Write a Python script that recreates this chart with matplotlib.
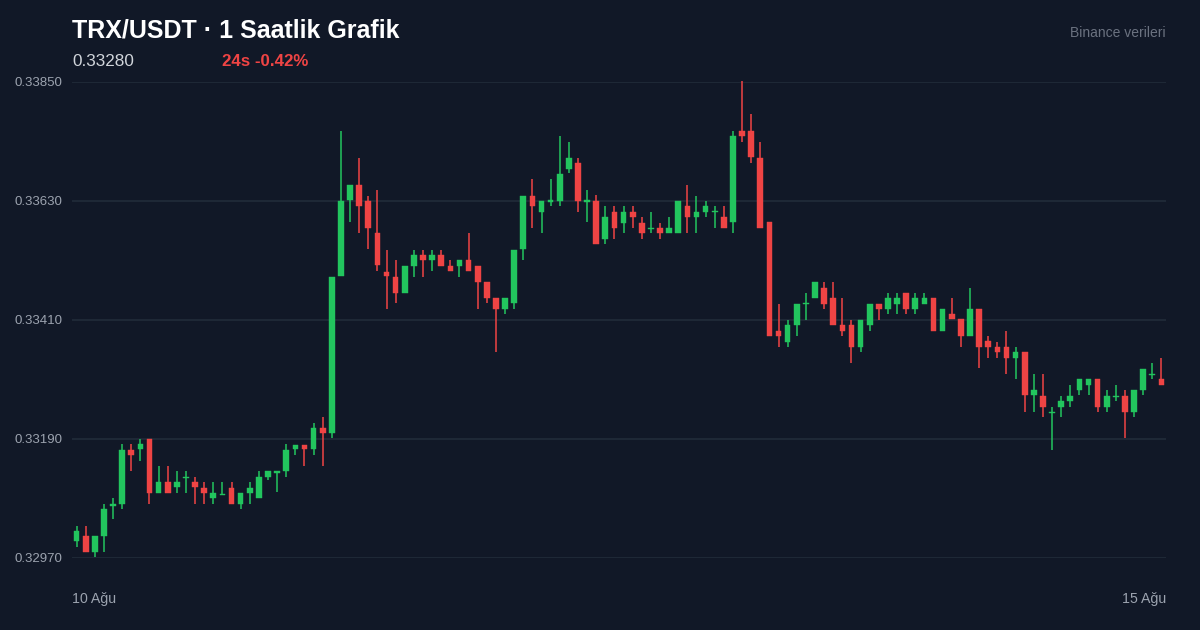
"""
TRX/USDT hourly candlestick chart (dark theme).
"""

import numpy as np
import matplotlib
matplotlib.use("Agg")
import matplotlib.pyplot as plt

# =============================================================================
# DATA
# =============================================================================

opens = [
    0.33001, 0.33010, 0.32981, 0.33011, 0.33067, 0.33070, 0.33170, 0.33171, 0.33190, 0.33091,
    0.33110, 0.33101, 0.33117, 0.33110, 0.33099, 0.33080, 0.33087, 0.33099, 0.33070, 0.33091,
    0.33080, 0.33120, 0.33128, 0.33131, 0.33171, 0.33179, 0.33171, 0.33210, 0.33201, 0.33491,
    0.33631, 0.33660, 0.33630, 0.33570, 0.33499, 0.33490, 0.33460, 0.33510, 0.33530, 0.33521,
    0.33530, 0.33510, 0.33510, 0.33520, 0.33510, 0.33480, 0.33450, 0.33431, 0.33441, 0.33541,
    0.33640, 0.33610, 0.33629, 0.33630, 0.33690, 0.33700, 0.33629, 0.33630, 0.33560, 0.33610,
    0.33590, 0.33610, 0.33590, 0.33579, 0.33580, 0.33570, 0.33570, 0.33620, 0.33600, 0.33610,
    0.33609, 0.33600, 0.33591, 0.33760, 0.33760, 0.33710, 0.33591, 0.33390, 0.33370, 0.33401,
    0.33439, 0.33450, 0.33470, 0.33450, 0.33400, 0.33400, 0.33361, 0.33401, 0.33440, 0.33430,
    0.33440, 0.33460, 0.33430, 0.33440, 0.33450, 0.33390, 0.33421, 0.33411, 0.33381, 0.33430,
    0.33371, 0.33360, 0.33360, 0.33340, 0.33350, 0.33271, 0.33270, 0.33238, 0.33250, 0.33260,
    0.33281, 0.33290, 0.33300, 0.33250, 0.33267, 0.33270, 0.33240, 0.33281, 0.33308, 0.33300,
]

highs = [
    0.33030, 0.33030, 0.33010, 0.33070, 0.33080, 0.33180, 0.33180, 0.33190, 0.33190, 0.33140,
    0.33140, 0.33131, 0.33131, 0.33120, 0.33110, 0.33110, 0.33110, 0.33110, 0.33090, 0.33110,
    0.33131, 0.33130, 0.33130, 0.33180, 0.33179, 0.33179, 0.33220, 0.33230, 0.33490, 0.33760,
    0.33660, 0.33710, 0.33640, 0.33650, 0.33539, 0.33520, 0.33510, 0.33539, 0.33539, 0.33539,
    0.33540, 0.33520, 0.33520, 0.33570, 0.33510, 0.33480, 0.33450, 0.33450, 0.33540, 0.33640,
    0.33670, 0.33630, 0.33670, 0.33750, 0.33740, 0.33710, 0.33650, 0.33641, 0.33620, 0.33620,
    0.33620, 0.33620, 0.33600, 0.33610, 0.33590, 0.33600, 0.33630, 0.33660, 0.33640, 0.33630,
    0.33620, 0.33620, 0.33760, 0.33851, 0.33790, 0.33740, 0.33591, 0.33440, 0.33410, 0.33440,
    0.33460, 0.33480, 0.33480, 0.33480, 0.33450, 0.33410, 0.33410, 0.33440, 0.33440, 0.33460,
    0.33460, 0.33460, 0.33460, 0.33460, 0.33450, 0.33430, 0.33450, 0.33411, 0.33470, 0.33430,
    0.33380, 0.33370, 0.33390, 0.33360, 0.33350, 0.33310, 0.33310, 0.33250, 0.33270, 0.33290,
    0.33300, 0.33300, 0.33300, 0.33281, 0.33290, 0.33281, 0.33280, 0.33320, 0.33330, 0.33340,
]

lows = [
    0.32991, 0.32981, 0.32972, 0.32981, 0.33042, 0.33061, 0.33130, 0.33150, 0.33070, 0.33091,
    0.33091, 0.33091, 0.33091, 0.33070, 0.33070, 0.33070, 0.33087, 0.33070, 0.33061, 0.33070,
    0.33080, 0.33114, 0.33092, 0.33120, 0.33160, 0.33141, 0.33160, 0.33141, 0.33191, 0.33491,
    0.33591, 0.33570, 0.33541, 0.33501, 0.33430, 0.33441, 0.33460, 0.33490, 0.33490, 0.33501,
    0.33510, 0.33501, 0.33490, 0.33501, 0.33430, 0.33441, 0.33350, 0.33421, 0.33430, 0.33520,
    0.33581, 0.33570, 0.33620, 0.33620, 0.33681, 0.33610, 0.33591, 0.33550, 0.33550, 0.33560,
    0.33570, 0.33581, 0.33560, 0.33570, 0.33560, 0.33570, 0.33570, 0.33570, 0.33570, 0.33600,
    0.33581, 0.33581, 0.33570, 0.33740, 0.33700, 0.33581, 0.33380, 0.33361, 0.33361, 0.33380,
    0.33410, 0.33450, 0.33430, 0.33401, 0.33380, 0.33331, 0.33351, 0.33390, 0.33410, 0.33421,
    0.33421, 0.33421, 0.33421, 0.33440, 0.33390, 0.33390, 0.33411, 0.33361, 0.33381, 0.33321,
    0.33340, 0.33340, 0.33310, 0.33300, 0.33240, 0.33240, 0.33231, 0.33170, 0.33231, 0.33250,
    0.33271, 0.33271, 0.33240, 0.33240, 0.33260, 0.33191, 0.33231, 0.33271, 0.33300, 0.33290,
]

closes = [
    0.33020, 0.32981, 0.33010, 0.33061, 0.33069, 0.33170, 0.33161, 0.33180, 0.33091, 0.33110,
    0.33091, 0.33110, 0.33120, 0.33101, 0.33091, 0.33090, 0.33089, 0.33070, 0.33090, 0.33099,
    0.33120, 0.33130, 0.33130, 0.33170, 0.33179, 0.33171, 0.33210, 0.33201, 0.33490, 0.33630,
    0.33660, 0.33621, 0.33581, 0.33511, 0.33491, 0.33460, 0.33510, 0.33530, 0.33521, 0.33530,
    0.33510, 0.33501, 0.33520, 0.33501, 0.33481, 0.33451, 0.33431, 0.33450, 0.33540, 0.33640,
    0.33621, 0.33630, 0.33631, 0.33680, 0.33710, 0.33630, 0.33631, 0.33550, 0.33600, 0.33581,
    0.33610, 0.33600, 0.33570, 0.33581, 0.33570, 0.33580, 0.33630, 0.33600, 0.33610, 0.33620,
    0.33611, 0.33581, 0.33750, 0.33750, 0.33711, 0.33581, 0.33380, 0.33380, 0.33401, 0.33440,
    0.33441, 0.33480, 0.33440, 0.33401, 0.33390, 0.33361, 0.33410, 0.33440, 0.33430, 0.33450,
    0.33450, 0.33430, 0.33450, 0.33450, 0.33390, 0.33430, 0.33411, 0.33381, 0.33430, 0.33361,
    0.33361, 0.33350, 0.33340, 0.33350, 0.33271, 0.33280, 0.33250, 0.33240, 0.33260, 0.33270,
    0.33300, 0.33300, 0.33250, 0.33270, 0.33269, 0.33240, 0.33280, 0.33320, 0.33310, 0.33290,
]

y_ticks = [0.32970, 0.33190, 0.33410, 0.33630, 0.33850]
x_labels = ["10 Ağu", "15 Ağu"]
title = "TRX/USDT · 1 Saatlik Grafik"
last_price = "0.33280"
change_text = "24s -0.42%"
source_text = "Binance verileri"

# =============================================================================
# STYLE
# =============================================================================

BG = "#111827"
GRID = "#1f2937"
UP = "#22c55e"
DOWN = "#ef4444"
MUTED = "#9ca3af"
FONT = ["Liberation Sans", "DejaVu Sans"]

plt.rcParams["font.family"] = FONT

W, H = 1200, 630
fig = plt.figure(figsize=(W / 100, H / 100), dpi=100, facecolor=BG)

# plot area in pixels: x 72..1166, y 82..558
ax = fig.add_axes([72 / W, 1 - 558 / H, (1166 - 72) / W, (558 - 82) / H])
ax.set_facecolor(BG)

o = np.array(opens)
h = np.array(highs)
l = np.array(lows)
c = np.array(closes)
x = np.arange(len(o))
colors = np.where(c >= o, UP, DOWN)

# wicks
ax.vlines(x, l, h, colors=colors, linewidth=1.1, zorder=2, clip_on=False)

# bodies (keep dojis visible)
min_body = 0.0000135
bottom = np.minimum(o, c)
height = np.maximum(np.abs(c - o), min_body)
ax.bar(x, height, bottom=bottom, width=0.62, color=colors, edgecolor=colors,
       linewidth=0.3, zorder=3, clip_on=False)

ax.set_xlim(-0.5, len(o) - 0.5)
ax.set_ylim(y_ticks[0], y_ticks[-1])

ax.set_yticks(y_ticks)
ax.set_yticklabels([f"{v:.5f}" for v in y_ticks])
ax.yaxis.grid(True, color=GRID, linewidth=1.4, zorder=0)
ax.set_axisbelow(True)
ax.set_xticks([])
ax.tick_params(axis="y", length=0, pad=7, labelsize=9.5, labelcolor=MUTED)
for s in ax.spines.values():
    s.set_visible(False)

# header
fig.text(72 / W, 1 - 31 / H, title, color="white", fontsize=18,
         fontweight="bold", va="center", ha="left")
fig.text(72 / W, 1 - 61 / H, last_price, color="#d1d5db", fontsize=12.3,
         va="center", ha="left")
fig.text(222 / W, 1 - 61 / H, change_text, color=DOWN, fontsize=12.2,
         fontweight="bold", va="center", ha="left")
fig.text(1166 / W, 1 - 33 / H, source_text, color="#6b7280", fontsize=10,
         va="center", ha="right")

# x labels
fig.text(72 / W, 1 - 599 / H, x_labels[0], color=MUTED, fontsize=10.2,
         va="center", ha="left")
fig.text(1166 / W, 1 - 599 / H, x_labels[1], color=MUTED, fontsize=10.2,
         va="center", ha="right")

fig.savefig("out.png", dpi=100, facecolor=BG)
